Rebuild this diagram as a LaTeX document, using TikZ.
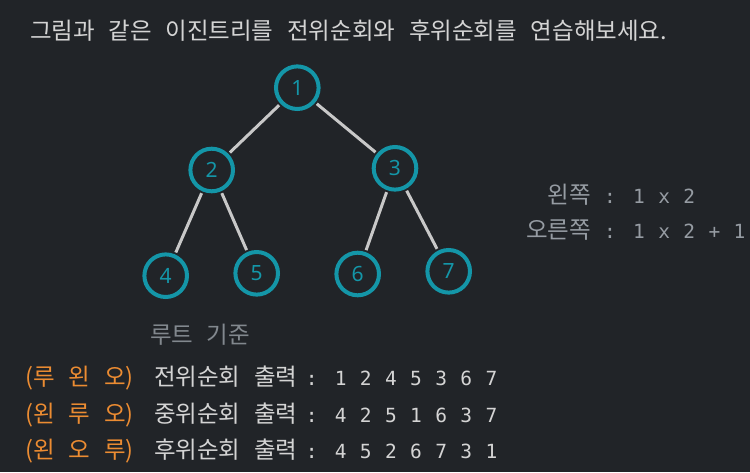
\documentclass[tikz,border=0pt]{standalone}
\usepackage{fontspec}
\newfontfamily\krf{Noto Sans CJK KR}[WordSpace=2.6]
\newfontfamily\monof{DejaVu Sans Mono}[WordSpace=1.14]
\newfontfamily\numf{Noto Sans}
\definecolor{bgc}{RGB}{33,36,40}
\definecolor{txtc}{RGB}{212,212,212}
\definecolor{greyc}{RGB}{150,156,163}
\definecolor{dimc}{RGB}{130,136,142}
\definecolor{orc}{RGB}{236,140,50}
\definecolor{tealc}{RGB}{20,150,168}
\definecolor{edgec}{RGB}{200,200,200}
\tikzset{
  txt/.style={inner sep=0pt, outer sep=0pt, anchor=base west},
  kr/.style={txt, font=\krf\fontsize{23.5}{28}\selectfont},
  mono/.style={txt, font=\monof\fontsize{19.5}{23}\selectfont},
  tnode/.style={circle, draw=tealc, line width=4pt, minimum size=42.6pt, inner sep=0pt,
    text=tealc, font=\numf\fontsize{21}{25}\selectfont},
  tedge/.style={draw=edgec, line width=3pt, shorten >=2pt, shorten <=2pt}
}
\begin{document}
\begin{tikzpicture}[x=1pt,y=-1pt]
\fill[bgc] (0,0) rectangle (750,472);
\useasboundingbox (0,0) rectangle (750,472);

% title
\node[kr, text=txtc] (title) at (30,39.5) {그림과 같은 이진트리를 전위순회와 후위순회를 연습해보세요.};

% tree
\node[tnode] (n1) at (297.3,87.7) {1};
\node[tnode] (n2) at (211.7,170) {2};
\node[tnode] (n3) at (395,168.3) {3};
\node[tnode] (n4) at (165.7,275.7) {4};
\node[tnode] (n5) at (256.7,273.3) {5};
\node[tnode] (n6) at (357.7,274) {6};
\node[tnode] (n7) at (448.7,271.3) {7};
\draw[tedge] (n1) -- (n2);
\draw[tedge] (n1) -- (n3);
\draw[tedge] (n2) -- (n4);
\draw[tedge] (n2) -- (n5);
\draw[tedge] (n3) -- (n6);
\draw[tedge] (n3) -- (n7);

% right formulas
\node[kr, text=greyc, anchor=base east] (lk) at (591,203.5) {왼쪽};
\node[mono, text=greyc] (lv) at (604.1,203.5) {: 1 x 2};
\node[kr, text=greyc, anchor=base east] (rk) at (591,238.5) {오른쪽};
\node[mono, text=greyc] (rv) at (604.1,238.5) {: 1 x 2 + 1};

% bottom
\node[kr, text=dimc] (root) at (150,343.5) {루트 기준};

\node[kr, text=orc] (o1) at (25.5,385) {(루 왼 오)};
\node[kr, text=txtc] (t1) at (154,385) {전위순회 출력};
\node[mono, text=txtc] (d1) at (305.8,385) {: 1 2 4 5 3 6 7};

\node[kr, text=orc] (o2) at (25.5,422.5) {(왼 루 오)};
\node[kr, text=txtc] (t2) at (154,422.5) {중위순회 출력};
\node[mono, text=txtc] (d2) at (305.8,422.5) {: 4 2 5 1 6 3 7};

\node[kr, text=orc] (o3) at (25.5,458.5) {(왼 오 루)};
\node[kr, text=txtc] (t3) at (154,458.5) {후위순회 출력};
\node[mono, text=txtc] (d3) at (305.8,458.5) {: 4 5 2 6 7 3 1};
\end{tikzpicture}
\end{document}
